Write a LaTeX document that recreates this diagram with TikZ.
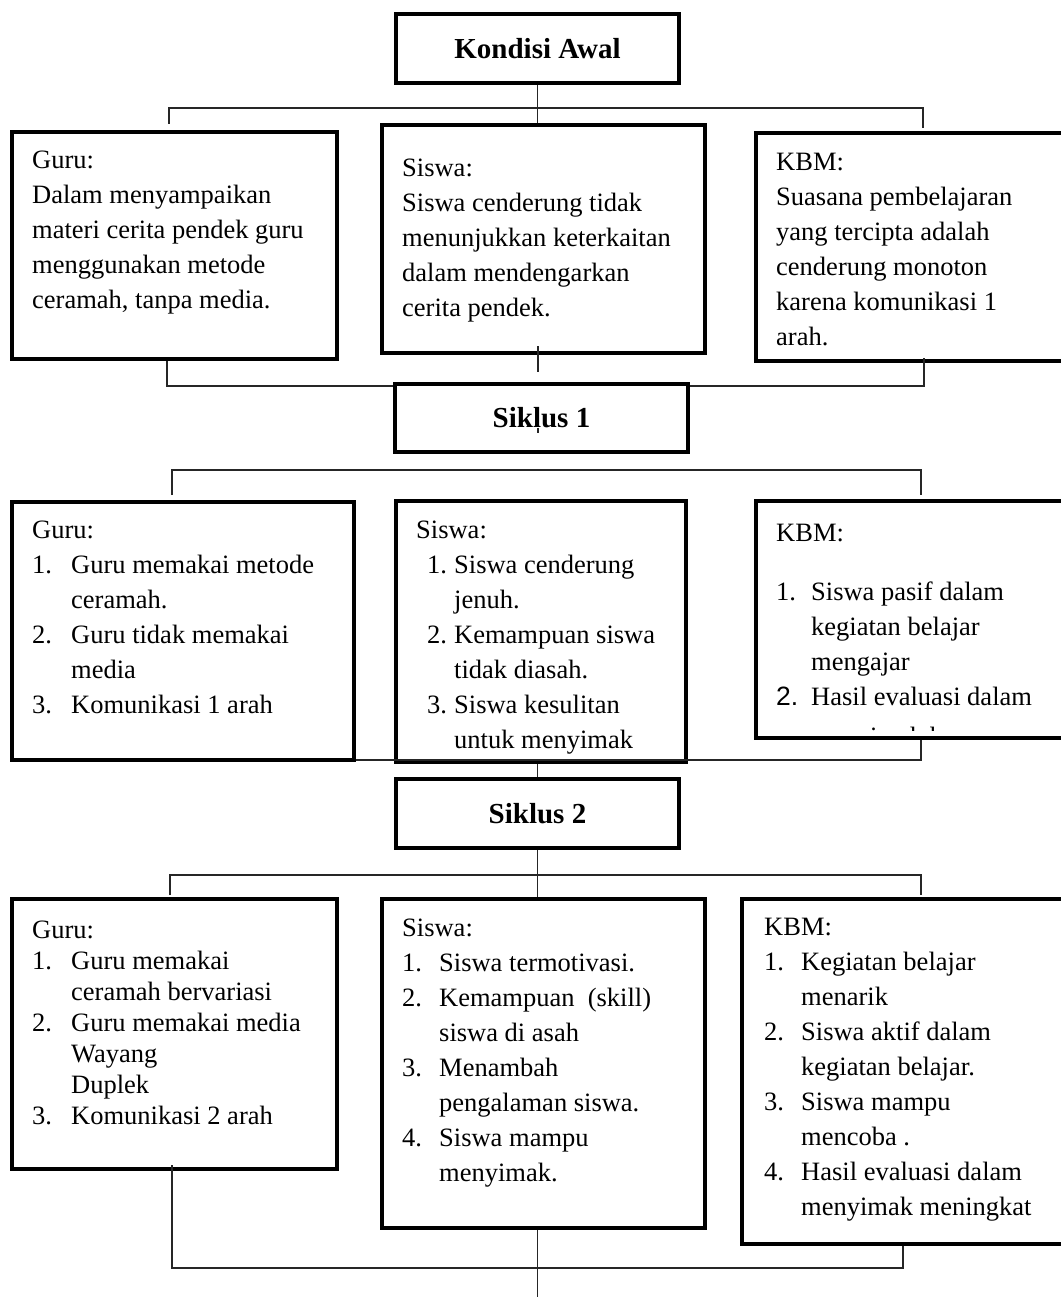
\documentclass[tikz,border=0pt]{standalone}
\usepackage{fontspec}
\setmainfont{Liberation Serif}
\newfontfamily\arialfont{Liberation Sans}
\newcommand{\nomor}[2][39pt]{\makebox[#1][l]{#2}}
\newcommand{\lanjut}[1][39pt]{\hspace*{#1}}

\begin{document}
\begin{tikzpicture}[x=1pt, y=-1pt,
  kotak/.style={draw, line width=4pt, anchor=north west, inner sep=0pt},
  judul/.style={draw, line width=4pt, inner sep=0pt, font=\fontsize{29}{35}\selectfont\bfseries},
  isi/.style={anchor=north west, inner sep=0pt, align=left, font=\fontsize{26.5}{35}\selectfont, execute at begin node={\rule{0pt}{18pt}}},
  garis/.style={line width=1.2pt, black!85}]
  \useasboundingbox (0,0) rectangle (1060,1297);

  % judul
  \node[judul, minimum width=283pt, minimum height=69pt] (ka) at (537.5,48.5) {Kondisi Awal};
  \node[judul, minimum width=293pt, minimum height=68pt] (s1) at (541.5,418) {Siklus 1};
  \node[judul, minimum width=283pt, minimum height=69pt] (s2) at (537.5,813.5) {Siklus 2};

  % kondisi awal
  \node[kotak, minimum width=325pt, minimum height=227pt] (gu1) at (10,130) {};
  \node[kotak, minimum width=323pt, minimum height=228pt] (si1) at (380,123) {};
  \node[kotak, minimum width=327pt, minimum height=228pt] (kb1) at (754,131) {};
  \node[isi] (tgu1) at (32,151) {Guru:\\Dalam menyampaikan\\materi cerita pendek guru\\menggunakan metode\\ceramah, tanpa media.};
  \node[isi] (tsi1) at (402,159) {Siswa:\\Siswa cenderung tidak\\menunjukkan keterkaitan\\dalam mendengarkan\\cerita pendek.};
  \node[isi] (tkb1) at (776,153) {KBM:\\Suasana pembelajaran\\yang tercipta adalah\\cenderung monoton\\karena komunikasi 1\\arah.};

  % siklus 1
  \node[kotak, minimum width=342pt, minimum height=258pt] (gu2) at (10,500) {};
  \node[kotak, minimum width=290pt, minimum height=261pt] (si2) at (394,499) {};
  \node[kotak, minimum width=327pt, minimum height=237pt] (kb2) at (754,499) {};
  \node[isi] (tgu2) at (32,521) {Guru:\\\nomor{1.}Guru memakai metode\\\lanjut ceramah.\\\nomor{2.}Guru tidak memakai\\\lanjut media\\\nomor{3.}Komunikasi 1 arah};
  \node[isi] (tsi2) at (416,521) {Siswa:\\\lanjut[11pt]\nomor[27pt]{1.}Siswa cenderung\\\lanjut[38pt]jenuh.\\\lanjut[11pt]\nomor[27pt]{2.}Kemampuan siswa\\\lanjut[38pt]tidak diasah.\\\lanjut[11pt]\nomor[27pt]{3.}Siswa kesulitan\\\lanjut[38pt]untuk menyimak};
  \begin{scope}
    \clip (756,501) rectangle (1060,730);
    \node[isi] (tkb2) at (776,524) {KBM:\\[24pt]\nomor[35pt]{1.}Siswa pasif dalam\\\lanjut[35pt]kegiatan belajar\\\lanjut[35pt]mengajar\\\nomor[35pt]{\arialfont 2.}Hasil evaluasi dalam\\[5pt]\lanjut[35pt]menyimak kurang};
  \end{scope}

  % siklus 2
  \node[kotak, minimum width=325pt, minimum height=270pt] (gu3) at (10,897) {};
  \node[kotak, minimum width=323pt, minimum height=329pt] (si3) at (380,897) {};
  \node[kotak, minimum width=341pt, minimum height=345pt] (kb3) at (740,897) {};
  \node[isi, font=\fontsize{26.5}{31}\selectfont] (tgu3) at (32,921) {Guru:\\\nomor{1.}Guru memakai\\\lanjut ceramah bervariasi\\\nomor{2.}Guru memakai media\\\lanjut Wayang\\\lanjut Duplek\\\nomor{3.}Komunikasi 2 arah};
  \node[isi] (tsi3) at (402,919) {Siswa:\\\nomor[37pt]{1.}Siswa termotivasi.\\\nomor[37pt]{2.}Kemampuan\ \ (skill)\\\lanjut[37pt]siswa di asah\\\nomor[37pt]{3.}Menambah\\\lanjut[37pt]pengalaman siswa.\\\nomor[37pt]{4.}Siswa mampu\\\lanjut[37pt]menyimak.};
  \node[isi] (tkb3) at (764,918) {KBM:\\\nomor[37pt]{1.}Kegiatan belajar\\\lanjut[37pt]menarik\\\nomor[37pt]{2.}Siswa aktif dalam\\\lanjut[37pt]kegiatan belajar.\\\nomor[37pt]{3.}Siswa mampu\\\lanjut[37pt]mencoba .\\\nomor[37pt]{4.}Hasil evaluasi dalam\\\lanjut[37pt]menyimak meningkat};

  % garis penghubung
  \coordinate (b1l) at (169,108);
  \coordinate (b1r) at (923,108);
  \draw[garis] (ka) -- (ka |- si1.north);
  \draw[garis] ([yshift=6pt]gu1.north -| b1l) -- (b1l) -- (b1r) -- ([yshift=3pt]kb1.north -| b1r);

  \coordinate (b2l) at (167,386);
  \coordinate (b2r) at (924,386);
  \coordinate (m1a) at (538,346);
  \coordinate (m1b) at (538,372);
  \draw[garis] (gu1.south -| b2l) -- (b2l) -- (s1.west |- b2l);
  \draw[garis] (s1.east |- b2r) -- (b2r) -- ([yshift=5pt]kb1.south -| b2r);
  \draw[garis] (m1a) -- (m1b);
  \draw[garis] ([xshift=-3.5pt,yshift=-10pt]s1.center) -- ++(0,5);

  \coordinate (b6l) at (172,470);
  \coordinate (b6r) at (921,470);
  \draw[garis] ([yshift=5pt]gu2.north -| b6l) -- (b6l) -- (b6r) -- ([yshift=4pt]kb2.north -| b6r);

  \coordinate (b3r) at (921,760);
  \draw[garis] (gu2.east |- b3r) -- (b3r) -- (kb2.south -| b3r);
  \draw[garis] (s2) -- (s2 |- si2.south);

  \coordinate (b4l) at (170,875);
  \coordinate (b4r) at (921,875);
  \draw[garis] (s2) -- (s2 |- si3.north);
  \draw[garis] ([yshift=2pt]gu3.north -| b4l) -- (b4l) -- (b4r) -- ([yshift=2pt]kb3.north -| b4r);

  \coordinate (b5l) at (172,1268);
  \coordinate (b5r) at (903,1268);
  \coordinate (bw) at (537.5,1297);
  \draw[garis] ([yshift=6pt]gu3.south -| b5l) -- (b5l) -- (b5r) -- (kb3.south -| b5r);
  \draw[garis] (si3.south -| bw) -- (bw);
\end{tikzpicture}
\end{document}
